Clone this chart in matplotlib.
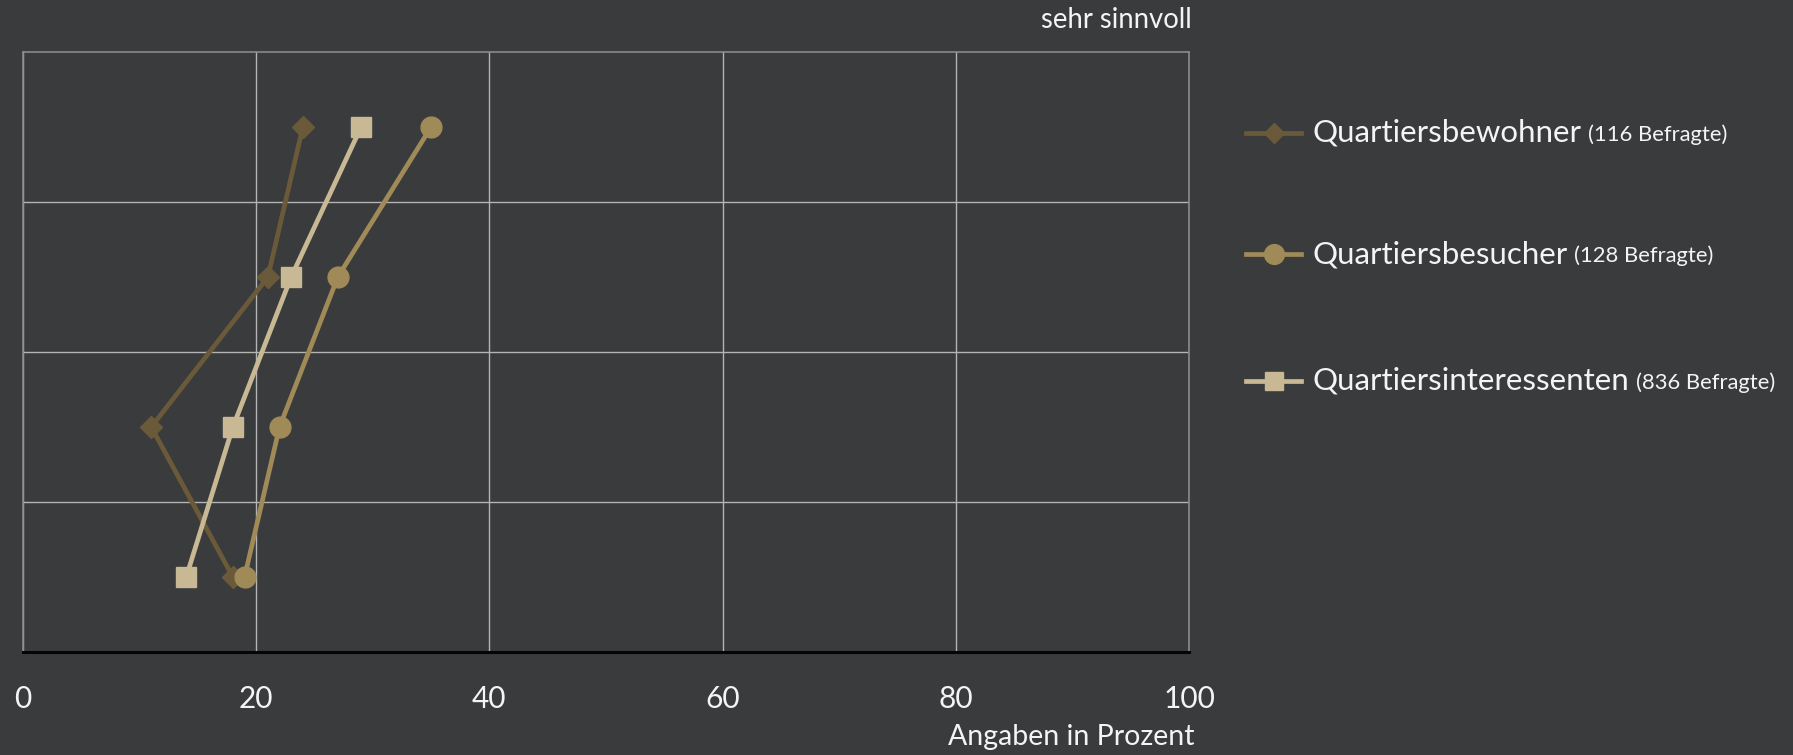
import matplotlib.pyplot as plt
from matplotlib.lines import Line2D

# data (top category first)
categories = ["sehr sinnvoll", "sinnvoll", "weniger sinnvoll", "nicht sinnvoll"]
bewohner = [24, 21, 11, 18]
besucher = [35, 27, 22, 19]
interessenten = [29, 23, 18, 14]
series_names = ["Quartiersbewohner", "Quartiersbesucher", "Quartiersinteressenten"]
series_counts = ["(116 Befragte)", "(128 Befragte)", "(836 Befragte)"]
x_ticks = [0, 20, 40, 60, 80, 100]

bg = "#3a3b3d"
colors = ["#6b5a3a", "#a08a58", "#c8b894"]
markers = ["D", "o", "s"]
msizes = [11, 15, 14]
txt = "#f4f4f4"

plt.rcParams["font.family"] = ["Lato", "DejaVu Sans"]

W, H = 1793, 755
fig = plt.figure(figsize=(W / 100, H / 100), dpi=100, facecolor=bg)
ax = fig.add_axes([23 / W, 1 - 652 / H, (1189 - 23) / W, (652 - 52) / H])
ax.set_facecolor(bg)

ypos = [len(categories) - 0.5 - i for i in range(len(categories))]
for vals, c, m, ms in zip([bewohner, besucher, interessenten], colors, markers, msizes):
    ax.plot(vals, ypos, color=c, lw=3.4, marker=m, ms=ms, mec=c, mfc=c, zorder=3)

ax.set_xlim(0, 100)
ax.set_ylim(0, len(categories))
ax.set_xticks(x_ticks)
ax.set_xticklabels([str(t) for t in x_ticks], fontsize=21.5, color=txt)
ax.set_yticks(range(1, len(categories)))
ax.set_yticklabels([])
ax.tick_params(length=0, pad=24)
ax.grid(True, color="#b4b4b4", lw=1.0, zorder=1)
for s in ["top", "right", "left"]:
    ax.spines[s].set_color("#8a8a8a")
    ax.spines[s].set_linewidth(1.2)
ax.spines["bottom"].set_color("#050505")
ax.spines["bottom"].set_linewidth(2.2)

fig.text(1192 / W, 1 - 20 / H, categories[0], ha="right", va="center",
         fontsize=19.8, color=txt)
fig.text(1195 / W, 1 - 737 / H, "Angaben in Prozent", ha="right", va="center",
         fontsize=20.5, color=txt)

# legend drawn by hand so the respondent count can be smaller
renderer = fig.canvas.get_renderer()
leg_y = [133, 254, 381]
for name, cnt, c, m, ms, y in zip(series_names, series_counts, colors, markers, msizes, leg_y):
    yf = 1 - y / H
    fig.add_artist(Line2D([1246 / W, 1301 / W], [yf, yf], color=c, lw=3.4,
                          transform=fig.transFigure))
    fig.add_artist(Line2D([1273.5 / W], [yf], color=c, marker=m, ms=ms * 0.95,
                          mec=c, mfc=c, transform=fig.transFigure))
    t = fig.text(1313 / W, yf, name, ha="left", va="center", fontsize=22.5, color=txt)
    bb = t.get_window_extent(renderer)
    fig.text(bb.x1 / W + 6 / W, yf - 2 / H, cnt, ha="left", va="center",
             fontsize=15.8, color=txt)

fig.savefig("out.png", dpi=100, facecolor=bg)
